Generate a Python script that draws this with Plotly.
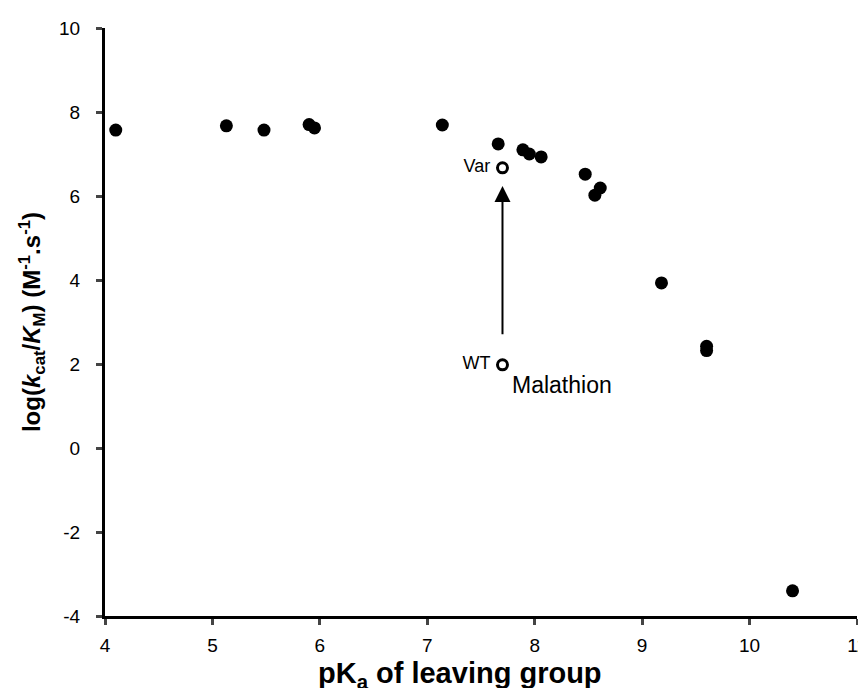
import plotly.graph_objects as go

# Filled points: pKa of leaving group vs log(kcat/KM)
pka = [4.10, 5.13, 5.48, 5.90, 5.95, 7.14, 7.66, 7.89, 7.95, 8.06, 8.47, 8.56, 8.61, 9.18, 9.60, 9.60, 10.40]
logk = [7.57, 7.67, 7.57, 7.70, 7.62, 7.69, 7.24, 7.10, 7.00, 6.93, 6.52, 6.02, 6.19, 3.93, 2.42, 2.32, -3.40]

# Malathion (open symbols)
mal_labels = ["WT", "Var"]
mal_pka = [7.70, 7.70]
mal_logk = [1.98, 6.67]

x_ticks = [4, 5, 6, 7, 8, 9, 10, 11]
x_ticktext = ["4", "5", "6", "7", "8", "9", "10", "11"]
y_ticks = [-4, -2, 0, 2, 4, 6, 8, 10]
y_ticktext = ["-4", "-2", "0", "2", "4", "6", "8", "10"]

FONT = "Liberation Sans"

fig = go.Figure()
fig.add_trace(go.Scatter(
    x=pka, y=logk, mode="markers",
    marker=dict(size=13, color="black", line=dict(width=0)),
    showlegend=False, cliponaxis=False))
fig.add_trace(go.Scatter(
    x=mal_pka, y=mal_logk, mode="markers+text",
    marker=dict(size=10, color="white", line=dict(width=3, color="black")),
    text=[l + " " for l in mal_labels], textposition="middle left",
    textfont=dict(family=FONT, size=18, color="black"),
    showlegend=False, cliponaxis=False))

# Arrow from WT toward Var
fig.add_annotation(x=mal_pka[1], y=6.24, ax=mal_pka[0], ay=2.67,
                   xref="x", yref="y", axref="x", ayref="y",
                   text="", showarrow=True, arrowhead=2, arrowsize=1.6,
                   arrowwidth=2, arrowcolor="black")
fig.add_annotation(x=7.77, y=1.5, xref="x", yref="y",
                   text="Malathion", showarrow=False, xanchor="left", yanchor="middle",
                   font=dict(family=FONT, size=23, color="black"))
# x-axis title (positioned in pixel terms)
plot_h = 688 - 20 - 80
fig.add_annotation(x=0.4725, y=(688 - 80 - 667) / plot_h, xref="paper", yref="paper",
                   text="<b>pK<sub>a</sub> of leaving group</b>", showarrow=False,
                   xanchor="center", yanchor="middle",
                   font=dict(family=FONT, size=29, color="black"))

fig.update_xaxes(range=[4, 11], tickvals=x_ticks, ticktext=x_ticktext,
                 ticks="outside", ticklen=6, tickwidth=3, ticklabeloverflow="allow",
                 ticklabelstandoff=4,
                 showline=True, linewidth=3, linecolor="black", showgrid=False, zeroline=False,
                 tickfont=dict(family=FONT, size=19, color="black"))
fig.update_yaxes(range=[-4, 10], tickvals=y_ticks, ticktext=y_ticktext,
                 ticks="outside", ticklen=6, tickwidth=3, ticklabeloverflow="allow",
                 ticklabelstandoff=12,
                 showline=True, linewidth=3, linecolor="black", showgrid=False, zeroline=False,
                 tickfont=dict(family=FONT, size=19, color="black"),
                 title=dict(text="<b>log(<i>k</i><sub>cat</sub>/<i>K</i><sub>M</sub>) (M<sup>-1</sup>.s<sup>-1</sup>)</b>",
                            standoff=12, font=dict(family=FONT, size=24, color="black")))

fig.update_layout(width=866, height=688, margin=dict(l=97, r=7, t=20, b=80),
                  plot_bgcolor="white", paper_bgcolor="white")
fig.write_html("out.html")
